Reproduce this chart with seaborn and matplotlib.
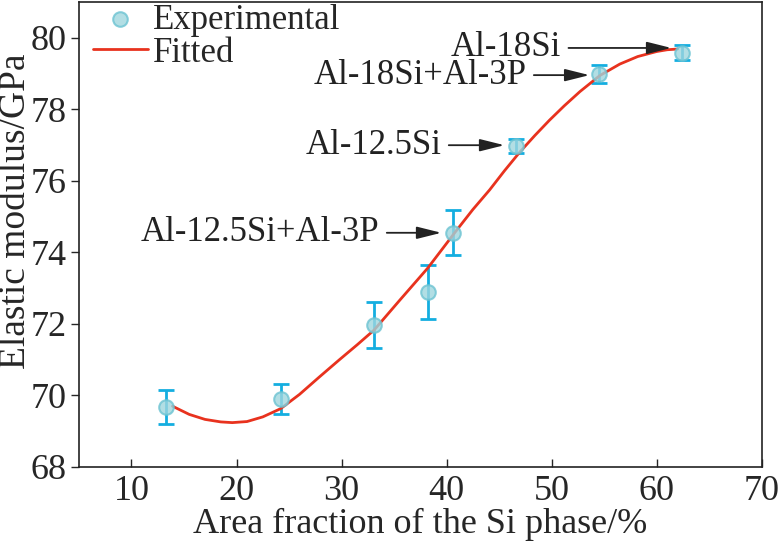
import numpy as np
import pandas as pd
import matplotlib
matplotlib.use("Agg")
import matplotlib.pyplot as plt
import seaborn as sns

# experimental points (area fraction %, modulus GPa, error)
si_frac = [13.3, 24.2, 33.1, 38.2, 40.6, 46.6, 54.5, 62.4]
modulus = [69.68, 69.9, 71.97, 72.9, 74.55, 76.98, 78.98, 79.59]
mod_err = [0.47, 0.43, 0.65, 0.75, 0.63, 0.19, 0.25, 0.22]

# fitted curve
fit_x = [13.9, 15.5, 17.0, 18.5, 19.6, 21.0, 22.5, 24.2, 26.0, 27.9, 29.8, 31.5, 33.1,
         35.5, 38.2, 40.9, 42.5, 44.1, 45.5, 46.95, 48.4, 49.8, 51.2, 52.7, 54.6,
         56.5, 58.2, 60.0, 61.0, 62.0]
fit_y = [69.70, 69.47, 69.33, 69.26, 69.24, 69.27, 69.40, 69.63, 70.03, 70.52, 71.0, 71.42, 71.83,
         72.65, 73.56, 74.6, 75.2, 75.75, 76.28, 76.8, 77.27, 77.7, 78.1, 78.5, 78.95,
         79.27, 79.48, 79.62, 79.67, 79.69]

# annotations: label, text end x, arrow tip x, y
labels = ["Al-18Si", "Al-18Si+Al-3P", "Al-12.5Si", "Al-12.5Si+Al-3P"]
label_x = [50.9, 47.6, 39.5, 33.6]
tip_x = [61.4, 53.6, 45.5, 39.5]
label_y = [79.72, 78.96, 77.0, 74.55]

sns.set_style("ticks")
plt.rcParams["font.family"] = ["Liberation Serif", "DejaVu Serif"]
plt.rcParams["font.size"] = 26

exp_df = pd.DataFrame({"x": si_frac, "y": modulus})
fit_df = pd.DataFrame({"x": fit_x, "y": fit_y})

fig = plt.figure(figsize=(7.78, 5.5), dpi=100)
ax = fig.add_axes([0.1015, 0.151, 0.8775, 0.845])

ax.errorbar(si_frac, modulus, yerr=mod_err, fmt="none", ecolor="#14aee0",
            elinewidth=2, capsize=6, capthick=2, zorder=2)
sns.lineplot(data=fit_df, x="x", y="y", ax=ax, color="#e8321e", linewidth=2,
             label="Fitted", zorder=3, sort=False)
sns.scatterplot(data=exp_df, x="x", y="y", ax=ax, s=110, color="#9fd6de",
                edgecolor="#6cc3d2", linewidth=1.5, alpha=0.8,
                label="Experimental", zorder=4)

for lab, lx, tx, ly in zip(labels, label_x, tip_x, label_y):
    ax.annotate(lab, xy=(tx, ly), xytext=(lx, ly), ha="right", va="center",
                fontsize=25, color="#222222",
                arrowprops=dict(arrowstyle="-|>,head_length=0.6,head_width=0.15",
                                color="#222222", lw=1.3, shrinkA=3, shrinkB=0))

ax.set_xlim(5, 70)
ax.set_ylim(68, 81)
ax.set_xticks([10, 20, 30, 40, 50, 60, 70])
ax.set_yticks([68, 70, 72, 74, 76, 78, 80])
ax.tick_params(axis="x", direction="in", length=6, width=1, pad=6, labelsize=26)
ax.tick_params(axis="y", direction="out", length=6, width=1, pad=3, labelsize=26)
ax.set_xlabel("Area fraction of the Si phase/%", fontsize=26, labelpad=0)
ax.set_ylabel("Elastic modulus/GPa", fontsize=27, va="center")
ax.yaxis.set_label_coords(-0.092, 0.55)
for sp in ax.spines.values():
    sp.set_linewidth(1.2)
    sp.set_color("#222222")

h, l = ax.get_legend_handles_labels()
order = [l.index("Experimental"), l.index("Fitted")]
ax.legend([h[i] for i in order], [l[i] for i in order], loc="upper left",
          bbox_to_anchor=(0.02, 0.997), frameon=False, fontsize=25,
          borderaxespad=0.0, borderpad=0.0, handlelength=1.6,
          handletextpad=0.15, labelspacing=0.0)

fig.savefig("out.png", dpi=100)
